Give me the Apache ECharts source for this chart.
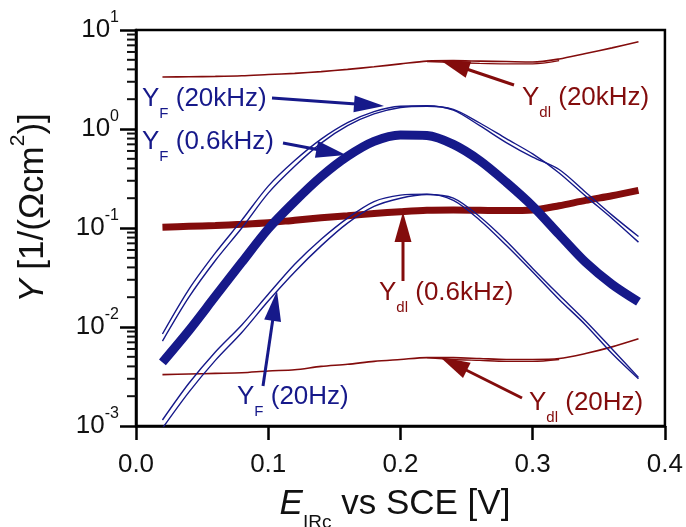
<!DOCTYPE html>
<html>
<head>
<meta charset="utf-8">
<script src="https://cdn.jsdelivr.net/npm/echarts@6/dist/echarts.min.js"></script>
<style>
  html, body { margin: 0; padding: 0; background: #fff; }
  #chart { width: 686px; height: 527px; }
</style>
</head>
<body>
<div id="chart"></div>
<script>
// potential E_IRc vs SCE [V]
const potential = [0.02, 0.04, 0.06, 0.08, 0.10, 0.12, 0.14, 0.16, 0.18, 0.20,
                   0.22, 0.24, 0.26, 0.28, 0.30, 0.32, 0.34, 0.36, 0.38];
const potentialMid = [0.22, 0.24, 0.26, 0.28, 0.30, 0.32];

// Y_F, faradaic admittance
const yF20kA = [0.0085, 0.024, 0.056, 0.12, 0.265, 0.48, 0.79, 1.16, 1.5, 1.7,
                1.72, 1.55, 1.08, 0.73, 0.52, 0.39, 0.23, 0.135, 0.082];
const yF20kB = [0.0072, 0.02, 0.047, 0.1, 0.225, 0.42, 0.72, 1.08, 1.42, 1.65,
                1.7, 1.58, 1.15, 0.8, 0.56, 0.36, 0.21, 0.125, 0.072];
const yF06k = [0.0044, 0.0092, 0.0204, 0.045, 0.098, 0.185, 0.33, 0.53, 0.75, 0.87,
               0.86, 0.7, 0.48, 0.29, 0.166, 0.086, 0.045, 0.027, 0.018];
const yF20A = [0.00115, 0.0027, 0.0056, 0.0105, 0.0214, 0.043, 0.077, 0.126, 0.185, 0.215,
               0.22, 0.19, 0.12, 0.067, 0.036, 0.019, 0.0105, 0.0054, 0.003];
const yF20B = [0.00095, 0.0022, 0.0046, 0.0088, 0.0183, 0.036, 0.066, 0.112, 0.165, 0.2,
               0.218, 0.2, 0.13, 0.074, 0.039, 0.021, 0.0115, 0.006, 0.0031];

// Y_dl, double layer admittance
const ydl20k = [3.35, 3.37, 3.4, 3.45, 3.55, 3.65, 3.8, 4.0, 4.25, 4.55,
                4.85, 4.9, 4.85, 4.8, 4.75, 5.1, 5.8, 6.6, 7.6];
const ydl20kB = [4.8, 4.7, 4.6, 4.55, 4.55, 4.9];
const ydl06k = [0.102, 0.104, 0.106, 0.109, 0.113, 0.12, 0.127, 0.133, 0.14, 0.146,
                0.151, 0.152, 0.151, 0.15, 0.152, 0.168, 0.19, 0.212, 0.24];
const ydl20 = [0.0033, 0.00335, 0.0034, 0.00345, 0.0036, 0.0037, 0.004, 0.0042, 0.0045, 0.0047,
               0.0049, 0.0049, 0.0048, 0.0047, 0.0047, 0.0048, 0.0054, 0.0063, 0.0076];
const ydl20B = [0.0049, 0.0047, 0.0046, 0.0045, 0.0045, 0.0047];

// tick labels
const xTickLabels = ['0.0', '0.1', '0.2', '0.3', '0.4'];
const yTicks = [0.001, 0.01, 0.1, 1, 10];
const yTickExp = ['-3', '-2', '-1', '0', '1'];
const minorMantissa = [2, 3, 4, 5, 6, 7, 8, 9];

const BLUE = '#16198a';
const RED = '#830c0c';
const INK = '#111111';
const FONT = 'Liberation Sans, Arial, sans-serif';

function pairs(xs, ys) {
    return xs.map((x, i) => [x, ys[i]]);
}

function line(name, xs, ys, color, width) {
    return {
        name: name,
        type: 'line',
        data: pairs(xs, ys),
        showSymbol: false,
        smooth: 0.3,
        lineStyle: { color: color, width: width },
        silent: true,
    };
}

function arrow(x1, y1, x2, y2, color) {
    const L = Math.hypot(x2 - x1, y2 - y1);
    const ux = (x2 - x1) / L, uy = (y2 - y1) / L;
    const hl = 30, hw = 8.5;
    const bx = x2 - ux * hl, by = y2 - uy * hl;
    return [
        { type: 'line', z: 100, shape: { x1: x1, y1: y1, x2: bx + ux * 2, y2: by + uy * 2 },
          style: { stroke: color, lineWidth: 3 } },
        { type: 'polygon', z: 100,
          shape: { points: [[x2, y2], [bx - uy * hw, by + ux * hw], [bx + uy * hw, by - ux * hw]] },
          style: { fill: color } },
    ];
}

function note(x, y, sub, rest, color) {
    return {
        type: 'text', z: 100, x: x, y: y,
        style: {
            text: '{m|Y}{s|' + sub + '}{m| ' + rest + '}',
            align: 'left', verticalAlign: 'middle',
            rich: {
                m: { fontSize: 26, fontFamily: FONT, fill: color, lineHeight: 44 },
                s: { fontSize: 15, fontFamily: FONT, fill: color, verticalAlign: 'bottom' },
            },
        },
    };
}

// minor tick values of the log axis (2..9 in each decade)
const minorTickValues = [];
yTicks.slice(0, -1).forEach(base => {
    minorMantissa.forEach(m => minorTickValues.push([0, m * base]));
});

const chart = echarts.init(document.getElementById('chart'), null, { renderer: 'canvas' });

const option = {
    animation: false,
    grid: {
        left: 136, right: 21, top: 30, bottom: 101,
        show: true, borderColor: '#000', borderWidth: 2.5,
    },
    xAxis: {
        type: 'value', min: 0, max: 0.4, interval: 0.1,
        axisLine: { lineStyle: { color: '#000', width: 2.5 } },
        axisTick: { length: 14, lineStyle: { color: '#000', width: 2.5 } },
        splitLine: { show: false },
        axisLabel: {
            margin: 26, fontSize: 26, fontFamily: FONT, color: INK,
            formatter: v => xTickLabels[Math.round(v * 10)],
        },
    },
    yAxis: {
        type: 'log', min: 0.001, max: 10,
        axisLine: { lineStyle: { color: '#000', width: 2.5 } },
        axisTick: { length: 16, lineStyle: { color: '#000', width: 2.5 } },
        splitLine: { show: false },
        axisLabel: {
            margin: 17, color: INK,
            formatter: v => {
                let k = 0;
                yTicks.forEach((t, i) => {
                    if (Math.abs(Math.log10(t) - Math.log10(v)) < 0.01) k = i;
                });
                return '{b|10}{s|' + yTickExp[k] + '}';
            },
            rich: {
                b: { fontSize: 26, fontFamily: FONT, color: INK, lineHeight: 40 },
                s: { fontSize: 16, fontFamily: FONT, color: INK, verticalAlign: 'top' },
            },
        },
    },
    series: [
        {
            type: 'custom',
            coordinateSystem: 'cartesian2d',
            silent: true,
            clip: false,
            z: 5,
            data: minorTickValues,
            renderItem: (params, api) => {
                const p = api.coord([api.value(0), api.value(1)]);
                return {
                    type: 'line',
                    shape: { x1: p[0] - 9, y1: p[1], x2: p[0], y2: p[1] },
                    style: { stroke: INK, lineWidth: 2 },
                };
            },
        },
        line('Ydl 20kHz', potential, ydl20k, RED, 1.6),
        line('Ydl 20kHz b', potentialMid, ydl20kB, RED, 1.4),
        line('Ydl 0.6kHz', potential, ydl06k, RED, 7),
        line('Ydl 20Hz', potential, ydl20, RED, 1.6),
        line('Ydl 20Hz b', potentialMid, ydl20B, RED, 1.4),
        line('YF 20kHz a', potential, yF20kA, BLUE, 1.4),
        line('YF 20kHz b', potential, yF20kB, BLUE, 1.4),
        line('YF 0.6kHz', potential, yF06k, BLUE, 9),
        line('YF 20Hz a', potential, yF20A, BLUE, 1.4),
        line('YF 20Hz b', potential, yF20B, BLUE, 1.4),
    ],
    graphic: [].concat(
        note(142, 99, 'F', '(20kHz)', BLUE),
        arrow(272, 98, 384, 106, BLUE),
        note(142, 142, 'F', '(0.6kHz)', BLUE),
        arrow(283, 143, 346, 155, BLUE),
        note(237, 397, 'F', '(20Hz)', BLUE),
        arrow(263, 386, 277, 291, BLUE),
        note(522, 98, 'dl', '(20kHz)', RED),
        arrow(514, 85, 440, 60, RED),
        note(379, 293, 'dl', '(0.6kHz)', RED),
        arrow(403, 281, 403, 212, RED),
        note(529, 403, 'dl', '(20Hz)', RED),
        arrow(522, 398, 440, 357, RED),
        [
            {
                type: 'text', x: 33, y: 208, rotation: Math.PI / 2,
                style: {
                    text: '{i|Y}{m| [1/(\u03A9cm}{s|2}{m|)]}',
                    align: 'center', verticalAlign: 'middle',
                    rich: {
                        i: { fontSize: 35, fontStyle: 'italic', fontFamily: FONT, fill: INK, lineHeight: 50 },
                        m: { fontSize: 35, fontFamily: FONT, fill: INK, lineHeight: 50 },
                        s: { fontSize: 21, fontFamily: FONT, fill: INK, verticalAlign: 'top' },
                    },
                },
            },
            {
                type: 'text', x: 395, y: 504,
                style: {
                    text: '{i|E}{s|IRc}{m| vs SCE [V]}',
                    align: 'center', verticalAlign: 'middle',
                    rich: {
                        i: { fontSize: 35, fontStyle: 'italic', fontFamily: FONT, fill: INK, lineHeight: 56 },
                        m: { fontSize: 35, fontFamily: FONT, fill: INK, lineHeight: 56 },
                        s: { fontSize: 19, fontFamily: FONT, fill: INK, verticalAlign: 'bottom' },
                    },
                },
            },
        ]
    ),
};

chart.setOption(option);
</script>
</body>
</html>
